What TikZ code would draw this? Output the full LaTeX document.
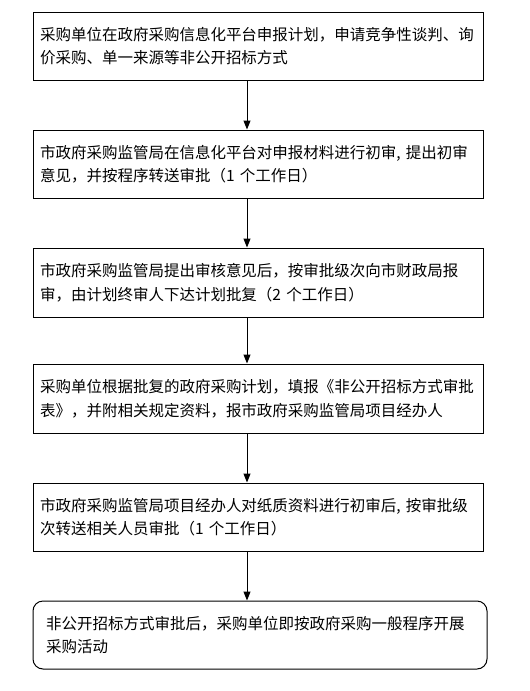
\documentclass[tikz,border=0pt]{standalone}
\usepackage{fontspec}
\setmainfont{Noto Sans CJK SC}
\usetikzlibrary{arrows.meta}
\begin{document}
\begin{tikzpicture}[x=1pt,y=-1pt,
  stepbox/.style={draw, line width=1pt, minimum width=450pt, minimum height=68pt,
    text width=436pt, align=left, inner sep=0pt,
    font=\fontsize{15.5pt}{23.5pt}\selectfont},
  endbox/.style={stepbox, rounded corners=10pt, minimum width=454pt, text width=428pt},
  flow/.style={-{Triangle[width=7pt,length=9pt]}, line width=1pt}]
\fill[white] (0,0) rectangle (530,691);
\useasboundingbox (0,0) rectangle (530,691);
\coordinate (ax) at (247,0);
\node[stepbox] (b1) at (258,46) {采购单位在政府采购信息化平台申报计划，申请竞争性谈判、询\\价采购、单一来源等非公开招标方式};
\node[stepbox] (b2) at (258,164) {市政府采购监管局在信息化平台对申报材料进行初审, 提出初审\\意见，并按程序转送审批（1 个工作日）};
\node[stepbox, minimum height=69pt] (b3) at (258,282.5) {市政府采购监管局提出审核意见后，按审批级次向市财政局报\\审，由计划终审人下达计划批复（2 个工作日）};
\node[stepbox, minimum height=69pt] (b4) at (258,398.5) {采购单位根据批复的政府采购计划，填报《非公开招标方式审批\\表》，并附相关规定资料，报市政府采购监管局项目经办人};
\node[stepbox] (b5) at (258,517) {市政府采购监管局项目经办人对纸质资料进行初审后, 按审批级\\次转送相关人员审批（1 个工作日）};
\node[endbox] (b6) at (260,635) {非公开招标方式审批后，采购单位即按政府采购一般程序开展\\采购活动};
\draw[flow] (b1.south -| ax) -- (b2.north -| ax);
\draw[flow] (b2.south -| ax) -- (b3.north -| ax);
\draw[flow] (b3.south -| ax) -- (b4.north -| ax);
\draw[flow] (b4.south -| ax) -- (b5.north -| ax);
\draw[flow] (b5.south -| ax) -- (b6.north -| ax);
\end{tikzpicture}
\end{document}
